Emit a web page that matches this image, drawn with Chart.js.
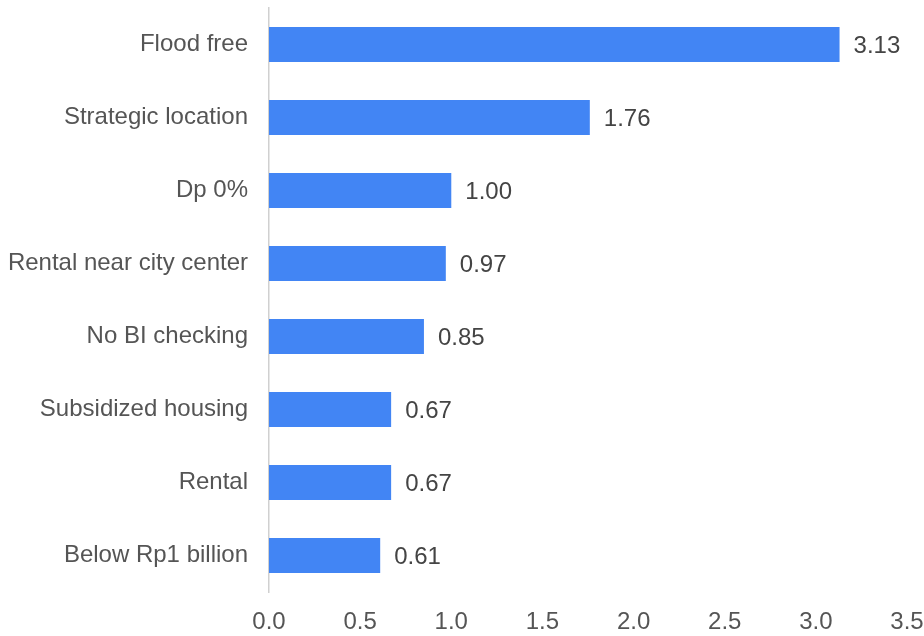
<!DOCTYPE html>
<html>
<head>
<meta charset="utf-8">
<script src="https://cdn.jsdelivr.net/npm/chart.js@4"></script>
<style>
  html, body { margin: 0; padding: 0; background: #fff; }
  #wrap { width: 924px; height: 636px; }
</style>
</head>
<body>
<div id="wrap"><canvas id="c"></canvas></div>
<script>
const categories = [
  'Flood free',
  'Strategic location',
  'Dp 0%',
  'Rental near city center',
  'No BI checking',
  'Subsidized housing',
  'Rental',
  'Below Rp1 billion',
];
const values = [3.13, 1.76, 1.00, 0.97, 0.85, 0.67, 0.67, 0.61];
const xTicks = [0, 0.5, 1.0, 1.5, 2.0, 2.5, 3.0, 3.5];

const BAR = '#4285f4';
const LABEL = '#555555';
const FONT = { family: 'Arial, "Liberation Sans", sans-serif', size: 24 };

// value text to the right of each bar
const valueLabels = {
  id: 'valueLabels',
  afterDatasetsDraw(chart) {
    const { ctx } = chart;
    const meta = chart.getDatasetMeta(0);
    ctx.save();
    ctx.font = `${FONT.size}px ${FONT.family}`;
    ctx.fillStyle = '#444444';
    ctx.textAlign = 'left';
    ctx.textBaseline = 'middle';
    meta.data.forEach((bar, i) => {
      ctx.fillText(values[i].toFixed(2), bar.x + 14, bar.y + 2);
    });
    ctx.restore();
  },
};

new Chart(document.getElementById('c'), {
  type: 'bar',
  data: {
    labels: categories,
    datasets: [{
      data: values,
      backgroundColor: BAR,
      barPercentage: 0.48,
      categoryPercentage: 1,
    }],
  },
  plugins: [valueLabels],
  options: {
    indexAxis: 'y',
    responsive: true,
    maintainAspectRatio: false,
    animation: false,
    layout: { padding: { top: 8, right: 17, left: 0, bottom: 0 } },
    plugins: {
      legend: { display: false },
      tooltip: { enabled: false },
    },
    scales: {
      x: {
        min: 0,
        max: 3.5,
        afterBuildTicks: s => { s.ticks = xTicks.map(v => ({ value: v })); },
        afterFit: s => { s.height = 44; s.paddingLeft = 0; s.paddingRight = 0; },
        grid: { display: false, drawTicks: false },
        border: { display: false },
        ticks: { color: LABEL, font: FONT, padding: 16, callback: v => v.toFixed(1), maxRotation: 0 },
      },
      y: {
        afterFit: s => { s.width = 269; s.paddingTop = 0; s.paddingBottom = 0; },
        grid: { display: false, drawTicks: false },
        border: { display: true, color: '#d0d0d0', width: 1.5 },
        ticks: { color: LABEL, font: FONT, padding: 21 },
      },
    },
  },
});
</script>
</body>
</html>
